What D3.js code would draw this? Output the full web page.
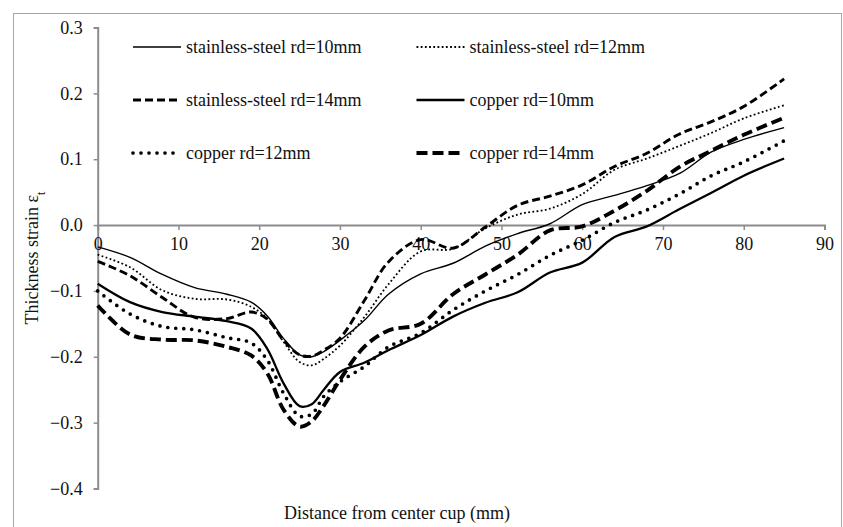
<!DOCTYPE html>
<html>
<head>
<meta charset="utf-8">
<script src="https://cdn.jsdelivr.net/npm/d3@7"></script>
<style>
  body { margin: 0; background: #fff; }
  svg { display: block; font-family: "Liberation Serif", "Times New Roman", serif; }
</style>
</head>
<body>
<div class="graph"></div>
<script>
// distance from the cup centre (mm), shared by every series
var distance = [0, 4, 8, 12, 16, 19, 21, 23, 25, 26.5, 28, 30, 33, 36, 40, 44, 48, 52, 56, 60, 64, 68, 72, 76, 80, 85];

// thickness strain for each series, same order as distance
var ss10 = [-0.033, -0.049, -0.075, -0.095, -0.105, -0.117, -0.138, -0.172, -0.197, -0.200, -0.192, -0.175, -0.145, -0.105, -0.074, -0.058, -0.032, -0.013, 0.002, 0.031, 0.045, 0.060, 0.078, 0.111, 0.130, 0.148];
var ss12 = [-0.045, -0.064, -0.099, -0.112, -0.113, -0.124, -0.142, -0.177, -0.208, -0.213, -0.203, -0.183, -0.140, -0.090, -0.040, -0.036, -0.005, 0.016, 0.025, 0.047, 0.084, 0.101, 0.120, 0.140, 0.162, 0.182];
var ss14 = [-0.055, -0.077, -0.110, -0.140, -0.142, -0.132, -0.143, -0.175, -0.197, -0.199, -0.190, -0.172, -0.115, -0.056, -0.022, -0.035, -0.003, 0.030, 0.044, 0.061, 0.089, 0.109, 0.138, 0.157, 0.180, 0.222];
var cu10 = [-0.089, -0.117, -0.132, -0.139, -0.146, -0.157, -0.188, -0.240, -0.275, -0.272, -0.250, -0.223, -0.209, -0.190, -0.167, -0.139, -0.118, -0.102, -0.072, -0.057, -0.018, -0.002, 0.024, 0.049, 0.075, 0.101];
var cu12 = [-0.100, -0.135, -0.154, -0.159, -0.171, -0.179, -0.205, -0.255, -0.290, -0.287, -0.260, -0.238, -0.215, -0.185, -0.164, -0.129, -0.100, -0.075, -0.046, -0.023, 0.004, 0.023, 0.047, 0.075, 0.096, 0.128];
var cu14 = [-0.122, -0.166, -0.174, -0.175, -0.185, -0.198, -0.225, -0.280, -0.306, -0.298, -0.274, -0.235, -0.185, -0.160, -0.150, -0.105, -0.075, -0.045, -0.008, -0.002, 0.022, 0.052, 0.088, 0.113, 0.137, 0.163];

var names = ['stainless-steel rd=10mm', 'stainless-steel rd=12mm', 'stainless-steel rd=14mm',
             'copper rd=10mm', 'copper rd=12mm', 'copper rd=14mm'];
var values = [ss10, ss12, ss14, cu10, cu12, cu14];

var xTicks = [0, 10, 20, 30, 40, 50, 60, 70, 80, 90];
var yTicks = [0.3, 0.2, 0.1, 0.0, -0.1, -0.2, -0.3, -0.4];

// line look for each series
var styles = [
  {width: 1.4, dash: null, cap: 'butt'},
  {width: 1.8, dash: '1.8,2.4', cap: 'butt'},
  {width: 2.9, dash: '8,4', cap: 'butt'},
  {width: 2.3, dash: null, cap: 'butt'},
  {width: 3.7, dash: '0,8', cap: 'round'},
  {width: 3.9, dash: '11,5', cap: 'butt'}
];

var width = 843, height = 527;
var axisColor = '#8c8c8c';
var textColor = '#111';

var x = d3.scaleLinear().domain([0, 90]).range([97.7, 824.5]);
var y = d3.scaleLinear().domain([-0.4, 0.3]).range([488.5, 27.5]);

var svg = d3.select('.graph').append('svg')
    .attr('width', width)
    .attr('height', height);

// outer frame
svg.append('rect')
    .attr('x', 13.5).attr('y', 13.5)
    .attr('width', 828).attr('height', 540)
    .attr('fill', 'none')
    .attr('stroke', '#a6a6a6')
    .attr('stroke-width', 1);

var fmt = d3.format('.1f');

var yAxis = d3.axisLeft(y).tickValues(yTicks).tickFormat(fmt).tickSize(4).tickPadding(11);
var xAxis = d3.axisBottom(x).tickValues(xTicks).tickFormat(d3.format('d')).tickSize(5).tickPadding(7);

svg.append('g')
    .attr('class', 'y axis')
    .attr('transform', 'translate(' + x(0) + ',0)')
    .call(yAxis);

svg.append('g')
    .attr('class', 'x axis')
    .attr('transform', 'translate(0,' + y(0) + ')')
    .call(xAxis);

svg.selectAll('.axis path, .axis line')
    .attr('stroke', axisColor)
    .attr('stroke-width', 1.5);
svg.selectAll('.axis .domain').attr('stroke-width', 2);
svg.selectAll('.axis text')
    .attr('fill', textColor)
    .style('font-size', '18px')
    .style('font-family', '"Liberation Serif", serif');

// series lines
var line = d3.line()
    .x(function(d) { return x(d[0]); })
    .y(function(d) { return y(d[1]); })
    .curve(d3.curveCatmullRom.alpha(0.5));

values.forEach(function(vals, i) {
  var pts = distance.map(function(d, j) { return [d, vals[j]]; });
  var s = styles[i];
  svg.append('path')
      .datum(pts)
      .attr('class', 'series')
      .attr('d', line)
      .attr('fill', 'none')
      .attr('stroke', '#000')
      .attr('stroke-width', s.width)
      .attr('stroke-dasharray', s.dash)
      .attr('stroke-linecap', s.cap)
      .attr('stroke-linejoin', 'round');
});

// legend, two columns by three rows
var legend = svg.selectAll('.legend')
    .data(names)
    .enter().append('g')
    .attr('class', 'legend')
    .attr('transform', function(d, i) {
      var col = i % 2, row = Math.floor(i / 2);
      return 'translate(' + (col === 0 ? 133 : 416.5) + ',' + (47 + row * 53) + ')';
    });

legend.append('line')
    .attr('x1', 0).attr('x2', 48)
    .attr('y1', 0).attr('y2', 0)
    .attr('stroke', '#000')
    .attr('stroke-width', function(d, i) { return styles[i].width; })
    .attr('stroke-dasharray', function(d, i) { return styles[i].dash; })
    .attr('stroke-linecap', function(d, i) { return styles[i].cap; });

legend.append('text')
    .attr('x', 53)
    .attr('y', 6)
    .style('font-size', '18px')
    .attr('fill', textColor)
    .text(function(d) { return d; });

// axis titles
svg.append('text')
    .attr('x', 397)
    .attr('y', 519)
    .attr('text-anchor', 'middle')
    .style('font-size', '18px')
    .attr('fill', textColor)
    .text('Distance from center cup (mm)');

var yt = svg.append('text')
    .attr('transform', 'translate(38,' + (y(-0.05)) + ') rotate(-90)')
    .attr('text-anchor', 'middle')
    .style('font-size', '18px')
    .attr('fill', textColor);
yt.append('tspan').text('Thickness strain ε');
yt.append('tspan').attr('baseline-shift', 'sub').style('font-size', '12px').text('t');
</script>
</body>
</html>
